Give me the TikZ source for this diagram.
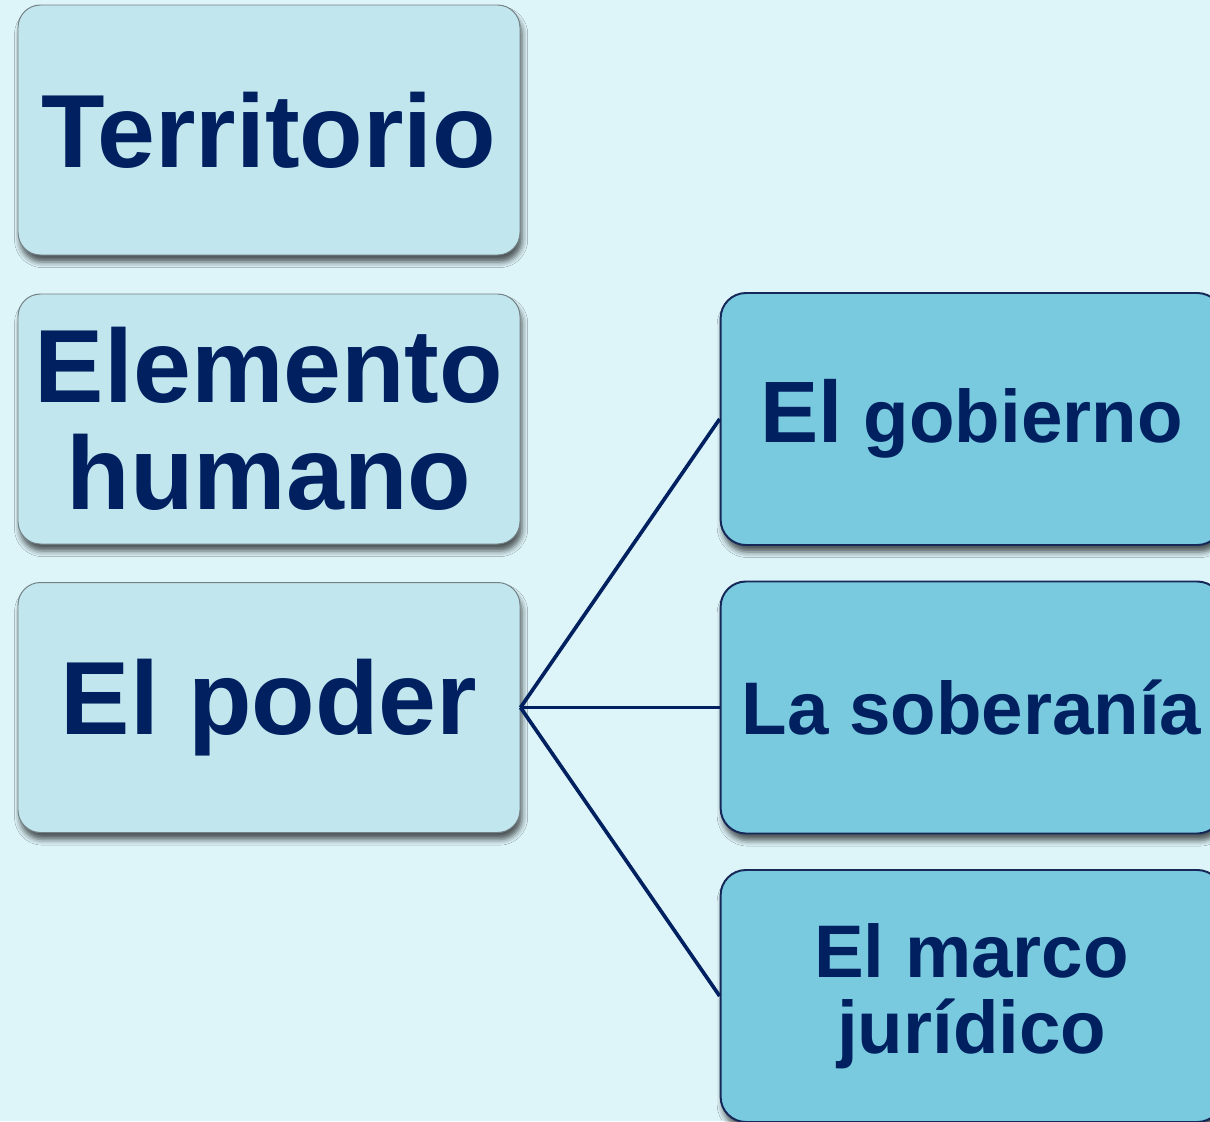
\documentclass[tikz,border=0pt]{standalone}
\usepackage{fontspec}
\setmainfont{Liberation Sans}
\definecolor{bgcyan}{RGB}{221, 244, 249}
\definecolor{paleblue}{RGB}{194, 230, 238}
\definecolor{skyblue}{RGB}{121, 201, 223}
\definecolor{navy1}{RGB}{0, 32, 96}
\definecolor{edgenavy}{RGB}{22, 40, 88}
\definecolor{edgegray}{RGB}{115, 128, 133}
\usepackage{tikz}
\usetikzlibrary{shadows.blur}

\begin{document}
\begin{tikzpicture}[
  leftbox/.style={draw=edgegray, line width=0.7pt, fill=paleblue, rounded corners=16pt, minimum width=12.55cm, minimum height=6.25cm, align=center, text=navy1, font=\fontsize{74}{76}\selectfont\bfseries, blur shadow={shadow xshift=1.5pt, shadow yshift=-5pt, shadow blur radius=4pt, shadow opacity=65}},
  rightbox/.style={draw=edgenavy, line width=1.4pt, fill=skyblue, rounded corners=18pt, minimum width=12.55cm, minimum height=6.3cm, align=center, text=navy1, font=\fontsize{53}{54}\selectfont\bfseries, blur shadow={shadow xshift=1.5pt, shadow yshift=-5pt, shadow blur radius=4pt, shadow opacity=65}},
  link/.style={draw=navy1, line width=2.6pt}
]
  \useasboundingbox (0, 0) rectangle (30.25, -28.025);
  \fill[bgcyan] (0, 0) rectangle (30.25, -28.025);

  % Elements of the state
  \node[leftbox] (territorio) at (6.725, -3.25) {Territorio};
  \node[leftbox] (humano) at (6.725, -10.475) {Elemento\\humano};
  \node[leftbox] (poder) at (6.725, -17.6875) {El poder};

  % Parts of the power
  \node[rightbox] (gobierno) at (24.29, -10.475) {{\fontsize{62}{62}\selectfont El} gobierno};
  \node[rightbox] (soberania) at (24.29, -17.6875) {La soberanía};
  \node[rightbox] (marco) at (24.29, -24.9) {El marco\\jurídico};

  \draw[link] (poder.east) -- (gobierno.west);
  \draw[link] (poder.east) -- (soberania.west);
  \draw[link] (poder.east) -- (marco.west);
\end{tikzpicture}
\end{document}
